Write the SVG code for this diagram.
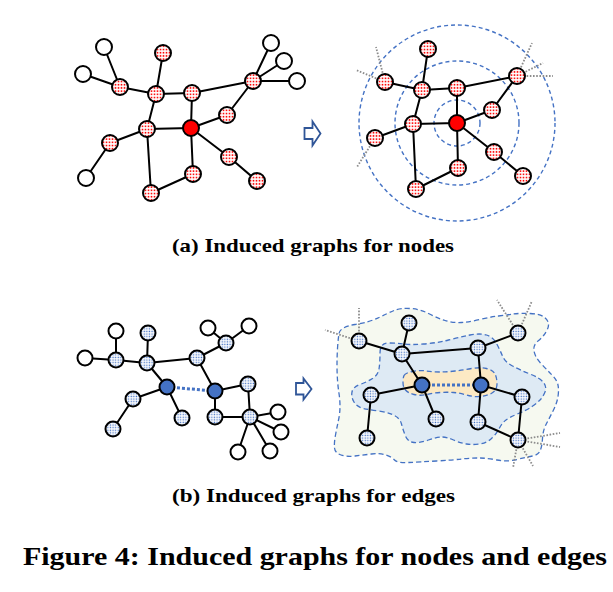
<svg xmlns="http://www.w3.org/2000/svg" width="613" height="592" viewBox="0 0 613 592">
<defs>
<pattern id="rdots" patternUnits="userSpaceOnUse" width="3" height="3.2">
<rect width="3" height="3.2" fill="#fff"/>
<rect x="0.7" y="0.7" width="1.6" height="1.6" fill="#f00"/>
</pattern>
<pattern id="bdots" patternUnits="userSpaceOnUse" width="2.6" height="2.6">
<rect width="2.6" height="2.6" fill="#fff"/>
<rect x="0.6" y="0.6" width="1.3" height="1.3" fill="#4472c4"/>
</pattern>
</defs>
<style>
.e{stroke:#000;stroke-width:2;fill:none}
.w{fill:#fff;stroke:#000;stroke-width:2}
.r{fill:url(#rdots);stroke:#000;stroke-width:2}
.rc{fill:#f00;stroke:#000;stroke-width:2}
.b{fill:url(#bdots);stroke:#000;stroke-width:2}
.bc{fill:#4472c4;stroke:#000;stroke-width:2}
.ring{fill:none;stroke:#4472c4;stroke-width:1.4;stroke-dasharray:4 3}
.stub{stroke:#8c8c8c;stroke-width:1.8;stroke-dasharray:1.6 1.6;fill:none}
.bd{stroke:#4472c4;stroke-width:3;stroke-dasharray:3 2;fill:none}
.blob{stroke:#4472c4;stroke-width:1.3;stroke-dasharray:5 3}
.arr{fill:#fff;stroke:#2f5597;stroke-width:1.8;stroke-linejoin:miter}
.cap{font-family:"Liberation Serif",serif;font-weight:bold;fill:#000}
</style>

<!-- top right rings -->
<g id="rings">
<circle class="ring" cx="457" cy="123" r="23"/>
<circle class="ring" cx="457" cy="123" r="62"/>
<circle class="ring" cx="457" cy="123" r="98"/>
</g>

<!-- bottom right regions -->
<g id="regions">
<path class="blob" fill="#f6f9f0" d="M339,333.5 Q340,327 355,324.5 Q370,322 379,317.5 Q388,313 394,310.5 Q400,308 410,308.5 Q420,309 428.5,313.5 Q437,318 445,320.5 Q453,323 461.5,322.5 Q470,322 480,319.5 Q490,317 498.5,316 Q507,315 513.5,314 Q520,313 530,313.5 Q540,314 544,317 Q548,320 548.5,323.5 Q549,327 546,332 Q543,337 538,341 Q533,345 534,351 Q535,357 541,363.5 Q547,370 552,375 Q557,380 558,385 Q559,390 558,396.5 Q557,403 553.5,410 Q550,417 546.5,423.5 Q543,430 542.5,438.5 Q542,447 540,451 Q538,455 532.5,456 Q527,457 517,459.5 Q507,462 497,460 Q487,458 478.5,458 Q470,458 461.5,459 Q453,460 436.5,461 Q420,462 408.5,462.5 Q397,463 394.5,460 Q392,457 386,455 Q380,453 371.5,454 Q363,455 355,456 Q347,457 341,455 Q335,453 334.5,448 Q334,443 335.5,435 Q337,427 338.5,420 Q340,413 340,406.5 Q340,400 339,393.5 Q338,387 337.5,380 Q337,373 337,365 Q337,357 337.5,348.5 Q338,340 339,333.5 Z"/>
<path class="blob" fill="#deeaf4" d="M380,353 Q380,343 388.5,343 Q397,343 403.5,344 Q410,345 423.5,344 Q437,343 448.5,340 Q460,337 470,335 Q480,333 486.5,335 Q493,337 496.5,343.5 Q500,350 502.5,356 Q505,362 512.5,366 Q520,370 530,374 Q540,378 543.5,382.5 Q547,387 545,392 Q543,397 540,400 Q537,403 532,406.5 Q527,410 518.5,413.5 Q510,417 506,420 Q502,423 499.5,428 Q497,433 492,438 Q487,443 480,444 Q473,445 466.5,444 Q460,443 453.5,440 Q447,437 442,437 Q437,437 428.5,440 Q420,443 414,442.5 Q408,442 405.5,436 Q403,430 401.5,424 Q400,418 393.5,415 Q387,412 378.5,411 Q370,410 363.5,408.5 Q357,407 354,402 Q351,397 352,392 Q353,387 360,384.5 Q367,382 372.5,378.5 Q378,375 379,369 Q380,363 380,353 Z"/>
<path class="blob" fill="#fce9c4" d="M404,375.5 Q405,373 412.5,371.5 Q420,370 426.5,371 Q433,372 440,372 Q447,372 455,371 Q463,370 471.5,368.5 Q480,367 486.5,368.5 Q493,370 495,374 Q497,378 497,384 Q497,390 492,393 Q487,396 480,396.5 Q473,397 466.5,395 Q460,393 453.5,392.5 Q447,392 440,392.5 Q433,393 426.5,394.5 Q420,396 414,394.5 Q408,393 405.5,390 Q403,387 403,382.5 Q403,378 404,375.5 Z"/>
</g>

<!-- arrows -->
<g id="arrow-a"><path class="arr" d="M304.5,128 H312.5 V121.5 L320.5,133.5 L312.5,145.5 V139 H304.5 Z"/></g>
<g id="arrow-b"><path class="arr" d="M296,383 H303.5 V378.5 L311.5,389 L303.5,399.5 V394.5 H296 Z"/></g>

<g id="connectors">
<!-- top left -->
<path class="e" d="M104,47 L120,87 M83,74 L120,87 M120,87 L156,94 M163,53 L156,94 M156,94 L192,93 M156,94 L147,129 M192,93 L191,128 M192,93 L253,81 M253,81 L271,43 M253,81 L284,61 M253,81 L297,81 M253,81 L227,115 M227,115 L191,128 M191,128 L147,129 M147,129 L110,143 M110,143 L86,178 M147,129 L151,193 M191,128 L229,157 M229,157 L257,181 M191,128 L193,174 M193,174 L151,193"/>
<!-- top right stubs -->
<path class="stub" d="M385,82 L376,47 M385,82 L356,70 M375,138 L357,167 M517,76 L532,43 M517,76 L543,63 M517,76 L553,76"/>
<!-- top right -->
<path class="e" d="M428,49 L422,90 M385,82 L422,90 M422,90 L457,88 M422,90 L413,124 M457,88 L457,123 M457,88 L517,76 M517,76 L492,110 M492,110 L457,123 M457,123 L413,124 M413,124 L375,138 M413,124 L416,189 M457,123 L494,152 M494,152 L523,176 M457,123 L458,168 M458,168 L416,189"/>
<!-- bottom left -->
<path class="e" d="M116,331 L116,360 M85,358 L116,360 M116,360 L147,363 M148,333 L147,363 M147,363 L197,358 M197,358 L226,343 M226,343 L208,328 M226,343 L249,326 M147,363 L167,387 M197,358 L215,391 M167,387 L133,399 M133,399 L113,429 M167,387 L182,418 M215,391 L248,384 M215,391 L215,417 M248,384 L250,417 M215,417 L250,417 M250,417 L278,412 M250,417 L281,432 M250,417 L238,452 M250,417 L270,451"/>
<path class="bd" d="M167,387 L215,391"/>
<!-- bottom right stubs -->
<path class="stub" d="M359,341 L359,308 M359,341 L325,330 M518,333 L497,300 M518,333 L532,301 M518,440 L560,433 M518,440 L560,447 M518,440 L533,466 M518,440 L513,468"/>
<!-- bottom right -->
<path class="e" d="M409,323 L402,354 M359,341 L402,354 M402,354 L478,348 M478,348 L518,333 M402,354 L422,385 M478,348 L481,385 M422,385 L371,395 M371,395 L367,438 M422,385 L436,419 M481,385 L478,422 M481,385 L522,397 M478,422 L518,440 M522,397 L518,440"/>
<path class="bd" d="M422,385 L481,385"/>
</g>

<!-- top-left nodes -->
<g id="tl-w1"><circle class="w" cx="104" cy="47" r="8"/></g>
<g id="tl-w2"><circle class="w" cx="83" cy="74" r="8"/></g>
<g id="tl-ra"><circle class="r" cx="120" cy="87" r="8"/></g>
<g id="tl-rb"><circle class="r" cx="163" cy="53" r="8"/></g>
<g id="tl-rc"><circle class="r" cx="156" cy="94" r="8"/></g>
<g id="tl-rd"><circle class="r" cx="192" cy="93" r="8"/></g>
<g id="tl-re"><circle class="r" cx="253" cy="81" r="8"/></g>
<g id="tl-w3"><circle class="w" cx="271" cy="43" r="8"/></g>
<g id="tl-w4"><circle class="w" cx="284" cy="61" r="8"/></g>
<g id="tl-w5"><circle class="w" cx="297" cy="81" r="8"/></g>
<g id="tl-rf"><circle class="r" cx="227" cy="115" r="8"/></g>
<g id="tl-center"><circle class="rc" cx="191" cy="128" r="8"/></g>
<g id="tl-rg"><circle class="r" cx="147" cy="129" r="8"/></g>
<g id="tl-rh"><circle class="r" cx="110" cy="143" r="8"/></g>
<g id="tl-w6"><circle class="w" cx="86" cy="178" r="8"/></g>
<g id="tl-ri"><circle class="r" cx="229" cy="157" r="8"/></g>
<g id="tl-rj"><circle class="r" cx="257" cy="181" r="8"/></g>
<g id="tl-rk"><circle class="r" cx="193" cy="174" r="8"/></g>
<g id="tl-rl"><circle class="r" cx="151" cy="193" r="8"/></g>

<!-- top-right nodes -->
<g id="tr-rb"><circle class="r" cx="428" cy="49" r="8"/></g>
<g id="tr-ra"><circle class="r" cx="385" cy="82" r="8"/></g>
<g id="tr-rc"><circle class="r" cx="422" cy="90" r="8"/></g>
<g id="tr-rd"><circle class="r" cx="457" cy="88" r="8"/></g>
<g id="tr-re"><circle class="r" cx="517" cy="76" r="8"/></g>
<g id="tr-rf"><circle class="r" cx="492" cy="110" r="8"/></g>
<g id="tr-center"><circle class="rc" cx="457" cy="123" r="8"/></g>
<g id="tr-rg"><circle class="r" cx="413" cy="124" r="8"/></g>
<g id="tr-rh"><circle class="r" cx="375" cy="138" r="8"/></g>
<g id="tr-ri"><circle class="r" cx="494" cy="152" r="8"/></g>
<g id="tr-rj"><circle class="r" cx="523" cy="176" r="8"/></g>
<g id="tr-rk"><circle class="r" cx="458" cy="168" r="8"/></g>
<g id="tr-rl"><circle class="r" cx="416" cy="189" r="8"/></g>

<!-- bottom-left nodes -->
<g id="bl-wa"><circle class="w" cx="116" cy="331" r="7.5"/></g>
<g id="bl-ba"><circle class="b" cx="148" cy="333" r="7.5"/></g>
<g id="bl-wb"><circle class="w" cx="85" cy="358" r="7.5"/></g>
<g id="bl-bb"><circle class="b" cx="116" cy="360" r="7.5"/></g>
<g id="bl-bc"><circle class="b" cx="147" cy="363" r="7.5"/></g>
<g id="bl-bd"><circle class="b" cx="197" cy="358" r="7.5"/></g>
<g id="bl-be"><circle class="b" cx="226" cy="343" r="7.5"/></g>
<g id="bl-wc"><circle class="w" cx="208" cy="328" r="7.5"/></g>
<g id="bl-wd"><circle class="w" cx="249" cy="326" r="7.5"/></g>
<g id="bl-blue1"><circle class="bc" cx="167" cy="387" r="7.5"/></g>
<g id="bl-blue2"><circle class="bc" cx="215" cy="391" r="7.5"/></g>
<g id="bl-bf"><circle class="b" cx="248" cy="384" r="7.5"/></g>
<g id="bl-bg"><circle class="b" cx="133" cy="399" r="7.5"/></g>
<g id="bl-bh"><circle class="b" cx="113" cy="429" r="7.5"/></g>
<g id="bl-bi"><circle class="b" cx="182" cy="418" r="7.5"/></g>
<g id="bl-bj"><circle class="b" cx="215" cy="417" r="7.5"/></g>
<g id="bl-bk"><circle class="b" cx="250" cy="417" r="7.5"/></g>
<g id="bl-we"><circle class="w" cx="278" cy="412" r="7.5"/></g>
<g id="bl-wf"><circle class="w" cx="281" cy="432" r="7.5"/></g>
<g id="bl-wg"><circle class="w" cx="238" cy="452" r="7.5"/></g>
<g id="bl-wh"><circle class="w" cx="270" cy="451" r="7.5"/></g>

<!-- bottom-right nodes -->
<g id="br-n1"><circle class="b" cx="409" cy="323" r="7.5"/></g>
<g id="br-n2"><circle class="b" cx="359" cy="341" r="7.5"/></g>
<g id="br-n3"><circle class="b" cx="402" cy="354" r="7.5"/></g>
<g id="br-n4"><circle class="b" cx="478" cy="348" r="7.5"/></g>
<g id="br-n5"><circle class="b" cx="518" cy="333" r="7.5"/></g>
<g id="br-blueA"><circle class="bc" cx="422" cy="385" r="7.5"/></g>
<g id="br-blueB"><circle class="bc" cx="481" cy="385" r="7.5"/></g>
<g id="br-n6"><circle class="b" cx="371" cy="395" r="7.5"/></g>
<g id="br-n7"><circle class="b" cx="436" cy="419" r="7.5"/></g>
<g id="br-n8"><circle class="b" cx="478" cy="422" r="7.5"/></g>
<g id="br-n9"><circle class="b" cx="522" cy="397" r="7.5"/></g>
<g id="br-n10"><circle class="b" cx="367" cy="438" r="7.5"/></g>
<g id="br-n11"><circle class="b" cx="518" cy="440" r="7.5"/></g>

<g id="captions">
<text class="cap" x="172" y="252" font-size="19" textLength="282" lengthAdjust="spacingAndGlyphs">(a) Induced graphs for nodes</text>
<text class="cap" x="172" y="502" font-size="19" textLength="283" lengthAdjust="spacingAndGlyphs">(b) Induced graphs for edges</text>
<text class="cap" x="23" y="565" font-size="26" textLength="584" lengthAdjust="spacingAndGlyphs">Figure 4: Induced graphs for nodes and edges</text>
</g>
</svg>
